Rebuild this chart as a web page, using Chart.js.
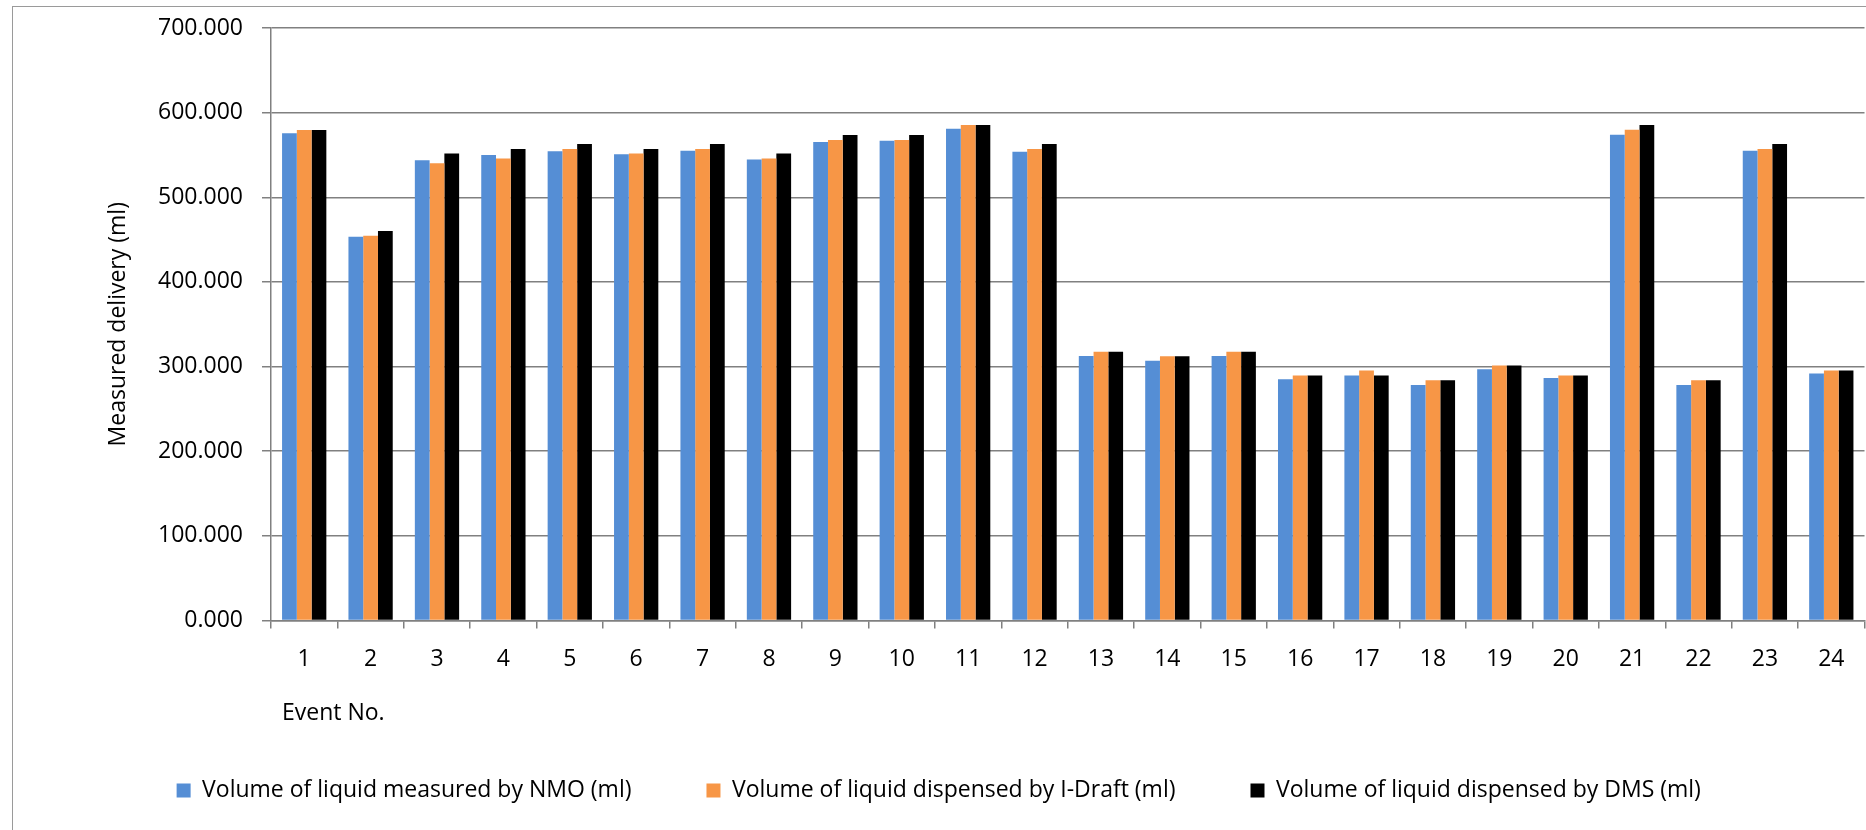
<!DOCTYPE html>
<html>
<head>
<meta charset="utf-8">
<title>Measured delivery by event</title>
<script src="https://cdn.jsdelivr.net/npm/chart.js@4.4.1/dist/chart.umd.min.js"></script>
<style>
  html, body { margin: 0; padding: 0; background: #ffffff; overflow: hidden; }
  #frame {
    position: absolute;
    left: 12px;
    top: 6px;
    border: 1px solid #9a9a9a;
    background: #ffffff;
  }
  #frame canvas { display: block; }
</style>
</head>
<body>
<div id="frame"><canvas id="chart" width="1864" height="830"></canvas></div>
<script>
// Event numbers along the x axis
const events = ['1','2','3','4','5','6','7','8','9','10','11','12',
                '13','14','15','16','17','18','19','20','21','22','23','24'];

// Volume of liquid measured by NMO (ml)
const nmoVolumes = [575.6, 453.5, 543.7, 550.0, 554.3, 550.8, 555.1, 544.5, 565.4, 566.9, 581.1, 553.9,
                    312.6, 306.9, 312.6, 285.0, 289.4, 278.3, 296.9, 286.6, 574.0, 278.3, 555.1, 291.7];

// Volume of liquid dispensed by I-Draft (ml)
const iDraftVolumes = [579.5, 454.7, 540.2, 545.7, 557.1, 551.6, 557.1, 545.7, 567.7, 567.7, 585.4, 557.1,
                       317.5, 312.2, 317.5, 289.4, 295.3, 283.9, 301.2, 289.4, 579.9, 283.9, 557.1, 295.3];

// Volume of liquid dispensed by DMS (ml)
const dmsVolumes = [579.5, 460.2, 551.6, 557.1, 563.0, 557.1, 563.0, 551.6, 573.6, 573.6, 585.4, 563.0,
                    317.5, 312.2, 317.5, 289.4, 289.4, 283.9, 301.2, 289.4, 585.4, 283.9, 563.0, 295.3];

const seriesNames = [
  'Volume of liquid measured by NMO (ml)',
  'Volume of liquid dispensed by I-Draft (ml)',
  'Volume of liquid dispensed by DMS (ml)'
];

// y-axis range and tick step
const yMin = 0;
const yMax = 700;
const yStep = 100;

const yTitle = 'Measured delivery (ml)';
const xTitle = 'Event No.';

const FONT = "'Open Sans', 'Noto Sans', sans-serif";
const FONT_SIZE = 23;
const AXIS_GRAY = '#808080';

// Axis title under the category labels, set a little in from the plot's left edge
const eventTitlePlugin = {
  id: 'eventTitle',
  afterDraw(chart) {
    const { ctx, chartArea } = chart;
    ctx.save();
    ctx.font = FONT_SIZE + 'px ' + FONT;
    ctx.fillStyle = '#000000';
    ctx.textAlign = 'left';
    ctx.textBaseline = 'middle';
    ctx.fillText(xTitle, chartArea.left + 11, chartArea.bottom + 93);
    ctx.restore();
  }
};

new Chart(document.getElementById('chart'), {
  type: 'bar',
  data: {
    labels: events,
    datasets: [
      { label: seriesNames[0], data: nmoVolumes, backgroundColor: '#558ed5' },
      { label: seriesNames[1], data: iDraftVolumes, backgroundColor: '#f79646' },
      { label: seriesNames[2], data: dmsVolumes, backgroundColor: '#000000' }
    ]
  },
  options: {
    responsive: false,
    animation: false,
    devicePixelRatio: 1,
    categoryPercentage: 0.667,
    barPercentage: 1.0,
    layout: { padding: { left: 0, right: 12.5, top: 21, bottom: 25 } },
    plugins: {
      tooltip: { enabled: false },
      legend: {
        position: 'bottom',
        align: 'center',
        labels: {
          font: { family: FONT, size: FONT_SIZE },
          color: '#000000',
          boxWidth: 14,
          boxHeight: 14,
          padding: 75
        }
      }
    },
    scales: {
      x: {
        grid: {
          display: true,
          drawOnChartArea: false,
          drawTicks: true,
          tickLength: 8,
          color: AXIS_GRAY,
          lineWidth: 1.5,
          offset: true
        },
        border: { display: true, color: AXIS_GRAY, width: 1.5 },
        ticks: {
          font: { family: FONT, size: FONT_SIZE },
          color: '#000000',
          padding: 17,
          maxRotation: 0,
          autoSkip: false
        },
        afterFit(scale) { scale.height = 83.5; }
      },
      y: {
        min: yMin,
        max: yMax,
        grid: {
          display: true,
          drawOnChartArea: true,
          drawTicks: true,
          tickLength: 9,
          color: AXIS_GRAY,
          lineWidth: 1.5
        },
        border: { display: true, color: AXIS_GRAY, width: 1.5 },
        ticks: {
          stepSize: yStep,
          font: { family: FONT, size: FONT_SIZE },
          color: '#000000',
          padding: 19,
          callback: (value) => Number(value).toFixed(3)
        },
        title: {
          display: true,
          text: yTitle,
          font: { family: FONT, size: FONT_SIZE },
          color: '#000000',
          padding: { top: 92, bottom: 0 }
        },
        afterFit(scale) {
          scale.width = 258;
          scale.paddingTop = 12;
          scale.paddingBottom = 12;
        }
      }
    }
  },
  plugins: [eventTitlePlugin]
});
</script>
</body>
</html>
